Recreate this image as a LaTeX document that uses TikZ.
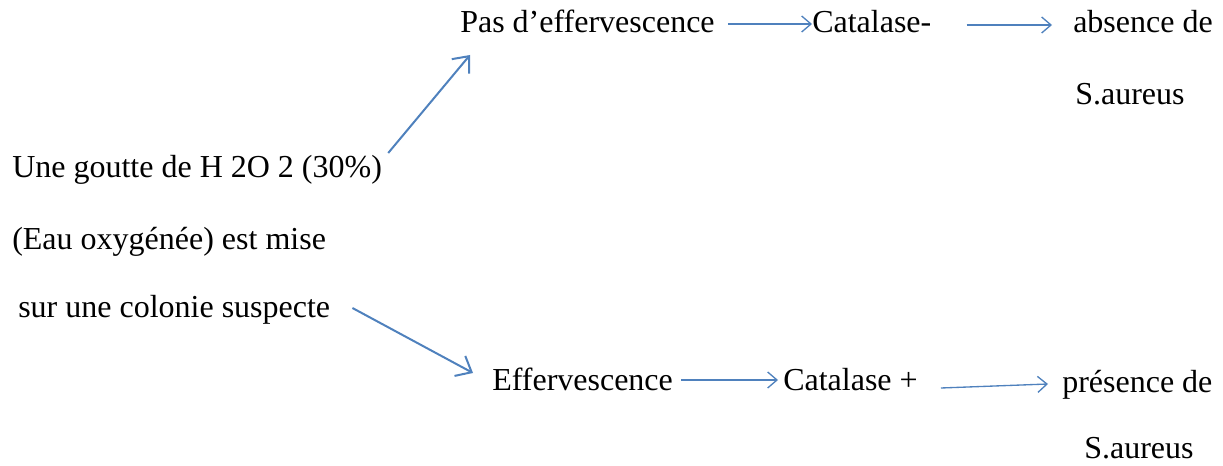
\documentclass[tikz,border=0pt]{standalone}
\usepackage{fontspec}
\setmainfont{Liberation Serif}
\usetikzlibrary{arrows.meta}
\definecolor{flowblue}{RGB}{79,129,189}
\tikzset{
	txt/.style={anchor=base west,inner sep=0pt,font=\fontsize{24pt}{28pt}\selectfont},
	flow/.style={flowblue,line width=1pt,-{Straight Barb[length=7pt,width=12pt]}},
	slant/.style={flowblue,line width=1.5pt,-{Straight Barb[length=10pt,width=17pt]}}
}
\begin{document}
\begin{tikzpicture}[x=0.75pt,y=-0.75pt]
		\useasboundingbox (0,0) rectangle (1223,466);
		% texte de gauche
		\node[txt] (une1) at (12,178) {Une goutte de H 2O 2 (30\%)};
		\node[txt] (une2) at (12,250) {(Eau oxygénée) est mise};
		\node[txt] (une3) at (18,317) {sur une colonie suspecte};
		% ligne du haut
		\node[txt] (pas) at (460,33) {Pas d’effervescence};
		\node[txt] (catm) at (812,33) {Catalase-};
		\node[txt] (abs) at (1073,33) {absence de};
		\node[txt] (sa1) at (1075,105) {S.aureus};
		% ligne du bas
		\node[txt] (eff) at (492,390) {Effervescence};
		\node[txt] (catp) at (783,390) {Catalase +};
		\node[txt] (pres) at (1062,392) {présence de};
		\node[txt] (sa2) at (1084,458) {S.aureus};
		% fleches
		\draw[slant] ([shift={(6,-25)}]une1.base east) -- ([shift={(10,22)}]pas.base west);
		\draw[slant] ([shift={(22,-9)}]une3.base east) -- ([shift={(-19,-17)}]eff.base west);
		\draw[flow] ([shift={(13,-9)}]pas.base east) -- ([shift={(0,-9)}]catm.base west);
		\draw[flow] ([shift={(35,-8)}]catm.base east) -- ([shift={(-21,-8)}]abs.base west);
		\draw[flow] ([shift={(8,-10)}]eff.base east) -- ([shift={(-5,-10)}]catp.base west);
		\draw[flow] ([shift={(23,-2)}]catp.base east) -- ([shift={(-14,-8)}]pres.base west);
	\end{tikzpicture}
\end{document}
